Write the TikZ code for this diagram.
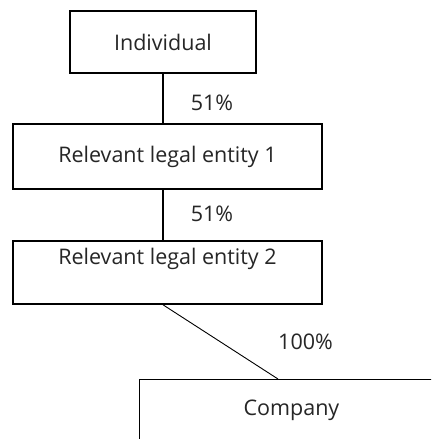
\documentclass[tikz,border=0pt]{standalone}
\usepackage{fontspec}
\setmainfont{Open Sans}
\usetikzlibrary{calc}

\begin{document}
\begin{tikzpicture}[x=1pt,y=-1pt,
                    font=\fontsize{21.5}{26}\selectfont,
                    every node/.style={text=black!85},
                    ownbox/.style={draw,line width=1.8pt,inner sep=0pt,align=center},
                    thinbox/.style={draw,line width=0.9pt,inner sep=0pt,align=center},
                    share/.style={anchor=base}
]
\clip (0,0) rectangle (431,439);
\fill[white] (0,0) rectangle (431,439);

\node [ownbox,minimum width=186pt,minimum height=62pt] at (163,42) (ind) {Individual};
\node [ownbox,minimum width=309pt,minimum height=65pt] at (167.5,156.5) (rle1) {Relevant legal entity 1};
%\node [ownbox] at ($(rle1.south)+(0,-50pt)$) (rle2) {Relevant legal entity 2};
\node [ownbox,minimum width=309pt,text height=24pt,text depth=39pt,anchor=north] at (167.5,240) (rle2) {Relevant legal entity 2};
\node [thinbox,minimum width=304pt,text height=36pt,text depth=60pt,anchor=north west] at (139,379) (comp) {Company};
%
\node [share] at (212,110) (p1) {51\%};
\node [share] at (212,221) (p2) {51\%};
\node [share] at (305.5,349) (p3) {100\%};
%
\draw [line width=1.6pt] (ind.south) -- (ind.south |- rle1.north);
\draw [line width=1.6pt] (rle1.south -| ind.south) -- (rle2.north -| ind.south);
\draw [line width=0.9pt] (rle2.south -| ind.south) -- ($(comp.north west)+(139,0)$);
\end{tikzpicture}
\end{document}
